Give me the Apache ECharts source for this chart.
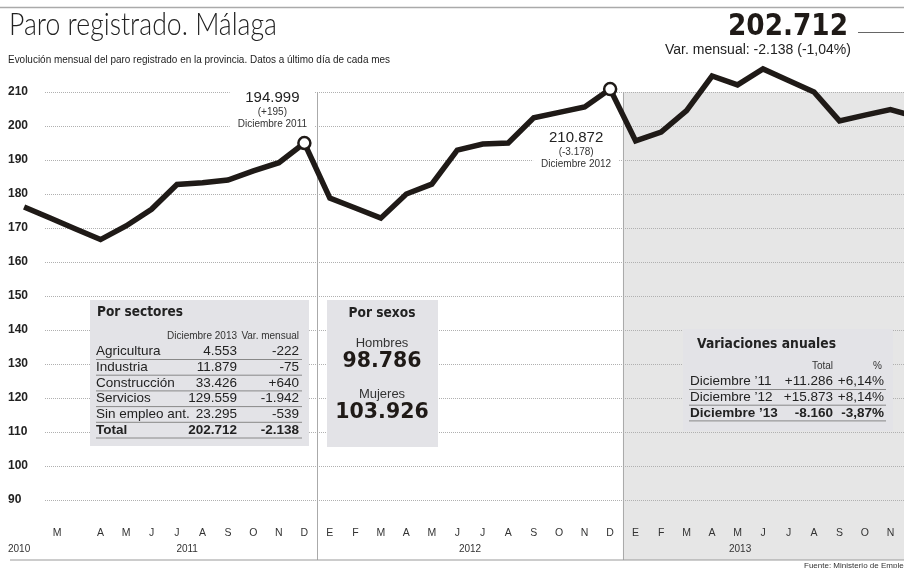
<!DOCTYPE html>
<html>
<head>
<meta charset="utf-8">
<script src="https://cdn.jsdelivr.net/npm/echarts@6/dist/echarts.min.js"></script>
<style>
html, body { margin: 0; padding: 0; background: #fff; }
#chart { width: 904px; height: 568px; }
</style>
</head>
<body>
<div id="chart"></div>
<script>
// --- datos (miles de parados, ultimo dia de cada mes) ---
const anios = ['2011', '2012', '2013'];
const nombresMes = ['Ene', 'Feb', 'Mar', 'Abr', 'May', 'Jun', 'Jul', 'Ago', 'Sep', 'Oct', 'Nov', 'Dic'];
const paro2011 = [176.2, 173.0, 169.8, 166.6, 170.6, 175.5, 182.8, 183.3, 184.1, 186.8, 189.2, 194.999];
const paro2012 = [178.8, 175.9, 172.9, 180.0, 182.9, 192.9, 194.7, 195.0, 202.4, 204.0, 205.6, 210.872];
const paro2013 = [195.6, 198.2, 204.5, 214.7, 212.1, 216.8, 213.4, 210.0, 201.5, 203.2, 204.85, 202.712];

// etiquetas del eje x (posicion = indice de mes)
const posMes = [1.3, 3, 4, 5, 6, 7, 8, 9, 10, 11, 12, 13, 14, 15, 16, 17, 18, 19, 20, 21, 22, 23,
  24, 25, 26, 27, 28, 29, 30, 31, 32, 33, 34];
const etiquetasMes = ['M', 'A', 'M', 'J', 'J', 'A', 'S', 'O', 'N', 'D',
  'E', 'F', 'M', 'A', 'M', 'J', 'J', 'A', 'S', 'O', 'N', 'D',
  'E', 'F', 'M', 'A', 'M', 'J', 'J', 'A', 'S', 'O', 'N'];
const posAnio = [0, 6.4, 17.5, 28.1];
const etiquetasAnio = ['2010', '2011', '2012', '2013'];
const cortesAnio = [11.5, 23.5];

const anotaciones = [
  { mes: 'Dic 2011', cifra: '194.999', variacion: '(+195)', fecha: 'Diciembre 2011' },
  { mes: 'Dic 2012', cifra: '210.872', variacion: '(-3.178)', fecha: 'Diciembre 2012' }
];

const totalActual = '202.712';
const varMensual = 'Var. mensual: -2.138 (-1,04%)';

const sectores = ['Agricultura', 'Industria', 'Construcción', 'Servicios', 'Sin empleo ant.', 'Total'];
const sectoresDic2013 = ['4.553', '11.879', '33.426', '129.559', '23.295', '202.712'];
const sectoresVarMensual = ['-222', '-75', '+640', '-1.942', '-539', '-2.138'];

const sexos = ['Hombres', 'Mujeres'];
const sexosValor = ['98.786', '103.926'];

const variacionesFecha = ['Diciembre \u201911', 'Diciembre \u201912', 'Diciembre \u201913'];
const variacionesTotal = ['+11.286', '+15.873', '-8.160'];
const variacionesPct = ['+6,14%', '+8,14%', '-3,87%'];

// --- grafico ---
const chart = echarts.init(document.getElementById('chart'));

const LINEA = '#1f1a17';
const fSans = "'Liberation Sans', Arial, sans-serif";
const fLight = "Lato, 'Liberation Sans', sans-serif";
const fHeavy = "'DejaVu Sans', sans-serif";

const meses = anios.flatMap(a => nombresMes.map(m => m + ' ' + a));
const paro = paro2011.concat(paro2012, paro2013);

const estiloAnot = [
  { position: 'top', offset: [-32, 0] },
  { position: 'bottom', offset: [-34, 27] }
];

const datos = paro.map((v, i) => {
  const k = anotaciones.findIndex(a => a.mes === meses[i]);
  if (k < 0) return [i, v];
  const a = anotaciones[k];
  return {
    value: [i, v],
    symbol: 'circle',
    symbolSize: 12,
    itemStyle: { color: '#fff', borderColor: LINEA, borderWidth: 2.5 },
    label: {
      show: true,
      position: estiloAnot[k].position,
      offset: estiloAnot[k].offset,
      distance: 4,
      formatter: '{n|' + a.cifra + '}\n{s|' + a.variacion + '}\n{s|' + a.fecha + '}',
      backgroundColor: '#fff',
      padding: [3, 8, 2, 8],
      rich: {
        n: { fontSize: 15, lineHeight: 16, color: '#222', fontFamily: fSans, align: 'center' },
        s: { fontSize: 10, lineHeight: 12, color: '#333', fontFamily: fSans, align: 'center' }
      }
    }
  };
});

function etiquetaCercana(lista, textos, v) {
  const k = lista.findIndex(p => Math.abs(p - v) < 0.01);
  return k < 0 ? '' : textos[k];
}

// medir texto para ajustar anchos al original
const ctx = document.createElement('canvas').getContext('2d');
function medir(t, size, family, weight) {
  ctx.font = (weight || 'normal') + ' ' + size + 'px ' + family;
  return ctx.measureText(t).width;
}

// elementos de texto y cajas
const g = [];
function txt(x, y, t, size, opts, ancho) {
  const st = Object.assign({
    text: t, fontSize: size, fontFamily: fSans, fill: '#222',
    align: 'left', verticalAlign: 'middle'
  }, opts || {});
  const el = { type: 'text', x: x, y: y, z: 11, silent: true, style: st };
  if (ancho) el.scaleX = ancho / medir(t, size, st.fontFamily, st.fontWeight);
  g.push(el);
}
function linea(x1, y1, x2, y2, color, w) {
  g.push({
    type: 'line', z: 11, silent: true,
    shape: { x1: x1, y1: y1, x2: x2, y2: y2 },
    style: { stroke: color, lineWidth: w }
  });
}
function caja(x, y, w, h) {
  g.push({
    type: 'rect', z: 10, silent: true,
    shape: { x: x, y: y, width: w, height: h },
    style: { fill: '#e3e3e7' }
  });
}

// cabecera
linea(0, 7.5, 904, 7.5, '#aaa', 1.5);
txt(9, 25, 'Paro registrado. Málaga', 32, { fontFamily: fLight, fontWeight: 300, fill: '#222' }, 268);
txt(8, 60, 'Evolución mensual del paro registrado en la provincia. Datos a último día de cada mes', 11,
  {}, 382);
txt(848, 27, totalActual, 30, { fontFamily: fHeavy, fontWeight: 'bold', fill: LINEA, align: 'right' }, 120);
linea(858, 32.5, 904, 32.5, '#666', 1);
txt(851, 50, varMensual, 14, { align: 'right' }, 186);

// pie
linea(10, 560, 904, 560, '#999', 1.2);
txt(804, 566, 'Fuente: Ministerio de Empleo', 8, { fill: '#333' });

// Por sectores
caja(90, 300, 219, 146);
txt(97, 312, 'Por sectores', 14, { fontFamily: fHeavy, fontWeight: 'bold' }, 86);
txt(237, 336, 'Diciembre 2013', 10, { align: 'right', fill: '#333' });
txt(299, 336, 'Var. mensual', 10, { align: 'right', fill: '#333' });
sectores.forEach((s, i) => {
  const y = 351.5 + i * 15.7;
  const neg = i === sectores.length - 1 ? { fontWeight: 'bold' } : {};
  txt(96, y, s, 13.5, neg);
  txt(237, y, sectoresDic2013[i], 13.5, Object.assign({ align: 'right' }, neg));
  txt(299, y, sectoresVarMensual[i], 13.5, Object.assign({ align: 'right' }, neg));
  linea(96, y + 8, 302, y + 8, '#888', 1);
});

// Por sexos
caja(327, 300, 111, 147);
txt(382, 313, 'Por sexos', 14, { fontFamily: fHeavy, fontWeight: 'bold', align: 'center' }, 67);
sexos.forEach((s, i) => {
  const y = 343 + i * 51;
  txt(382, y, s, 13, { align: 'center', fill: '#333' });
  txt(382, y + 19, sexosValor[i], 20.5, { fontFamily: fHeavy, fontWeight: 'bold', align: 'center', fill: LINEA });
});

// Variaciones anuales
caja(683, 329, 210, 102);
txt(697, 344, 'Variaciones anuales', 14, { fontFamily: fHeavy, fontWeight: 'bold' }, 139);
txt(833, 366, 'Total', 10, { align: 'right', fill: '#333' });
txt(882, 366, '%', 10, { align: 'right', fill: '#333' });
variacionesFecha.forEach((f, i) => {
  const y = 381.5 + i * 15.7;
  const neg = i === variacionesFecha.length - 1 ? { fontWeight: 'bold' } : {};
  txt(690, y, f, 13.5, neg);
  txt(833, y, variacionesTotal[i], 13.5, Object.assign({ align: 'right' }, neg));
  txt(884, y, variacionesPct[i], 13.5, Object.assign({ align: 'right' }, neg));
  linea(689, y + 8, 886, y + 8, '#888', 1);
});

const option = {
  animation: false,
  backgroundColor: '#fff',
  grid: [
    { left: 24.1, right: -11.9, top: 58, bottom: 68, outerBoundsMode: 'none', containLabel: false },
    { left: 45, right: 0, top: 92, bottom: 68, outerBoundsMode: 'none', containLabel: false },
    { left: 24.1, right: -11.9, top: 92, bottom: 8, outerBoundsMode: 'none', containLabel: false }
  ],
  xAxis: [
    {
      gridIndex: 0, type: 'value', min: 0, max: 35, position: 'bottom', z: 3,
      axisLine: { show: false }, axisTick: { show: false }, splitLine: { show: false },
      axisLabel: {
        customValues: posMes, margin: 28, fontSize: 10.5, color: '#333', fontFamily: fSans,
        formatter: v => etiquetaCercana(posMes, etiquetasMes, v)
      }
    },
    {
      gridIndex: 0, type: 'value', min: 0, max: 35, position: 'bottom', z: 3,
      axisLine: { show: false }, axisTick: { show: false }, splitLine: { show: false },
      axisLabel: {
        customValues: posAnio, margin: 44, fontSize: 10, color: '#333', fontFamily: fSans,
        formatter: v => {
          const t = etiquetaCercana(posAnio, etiquetasAnio, v);
          return v === posAnio[0] ? '{p|' + t + '}' : t;
        },
        rich: { p: { fontSize: 10, color: '#333', fontFamily: fSans, padding: [0, 10, 0, 0] } }
      }
    },
    { gridIndex: 1, type: 'value', show: false, min: 0, max: 1 },
    { gridIndex: 2, type: 'value', show: false, min: 0, max: 35 }
  ],
  yAxis: [
    { gridIndex: 0, type: 'value', show: false, min: 90, max: 220 },
    {
      gridIndex: 1, type: 'value', min: 90, max: 210, interval: 10, z: 3,
      axisLine: { show: false }, axisTick: { show: false },
      splitLine: { lineStyle: { color: '#b0b0b0', type: 'dotted', width: 1 } },
      axisLabel: {
        margin: 37, align: 'left', fontSize: 12, fontWeight: 'bold', color: '#222', fontFamily: fSans
      }
    },
    { gridIndex: 2, type: 'value', show: false, min: 0, max: 1 }
  ],
  series: [
    {
      type: 'line', xAxisIndex: 3, yAxisIndex: 2, data: [], z: 1, silent: true,
      markArea: {
        silent: true,
        itemStyle: { color: '#e6e6e6' },
        data: [[{ xAxis: cortesAnio[1] }, { xAxis: 35 }]]
      },
      markLine: {
        silent: true, symbol: ['none', 'none'], label: { show: false },
        lineStyle: { color: '#aaa', width: 1, type: 'solid' },
        data: cortesAnio.map(x => ({ xAxis: x }))
      }
    },
    {
      name: 'Paro registrado',
      type: 'line', xAxisIndex: 0, yAxisIndex: 0, z: 5, silent: true, clip: false,
      data: datos,
      symbol: 'none', showSymbol: true,
      lineStyle: { color: LINEA, width: 5.5, join: 'miter' },
      itemStyle: { color: LINEA }
    }
  ],
  graphic: g
};

chart.setOption(option);
</script>
</body>
</html>
